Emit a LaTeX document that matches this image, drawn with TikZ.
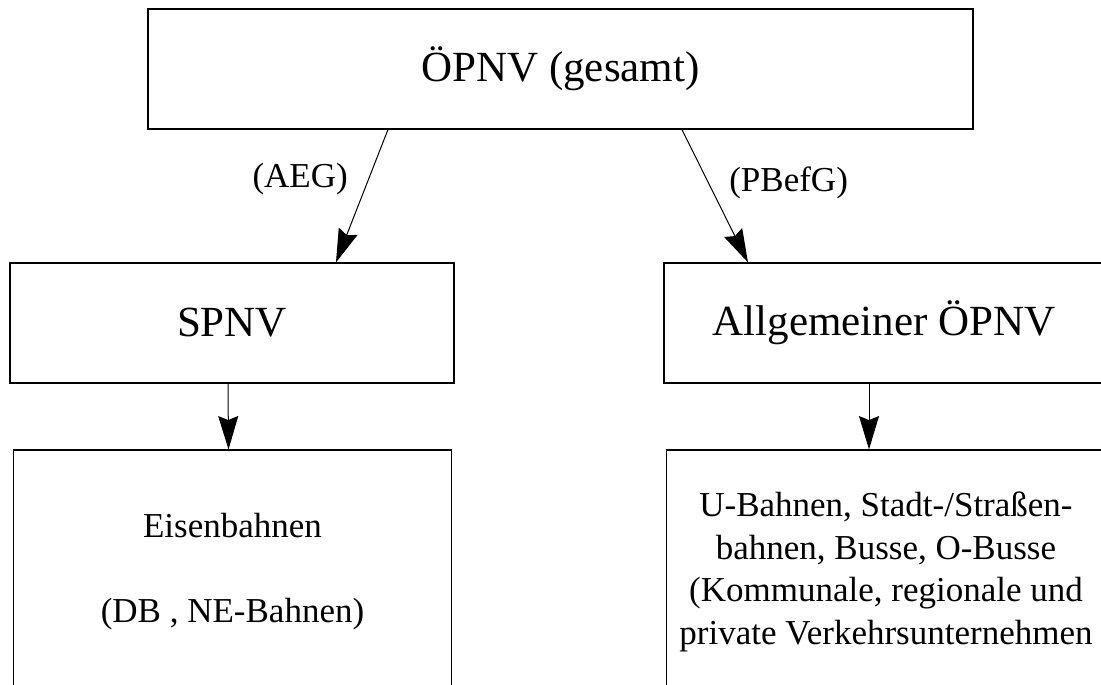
\documentclass[tikz,border=0pt]{standalone}
\usepackage{fontspec}
\setmainfont{Liberation Serif}
\usetikzlibrary{arrows.meta}
\newcommand{\bigtxt}{\fontsize{32.25}{38}\selectfont}
\newcommand{\smalltxt}{\fontsize{26.25}{31.9}\selectfont}

\begin{document}
\begin{tikzpicture}[x=0.75pt, y=-0.75pt,
		box/.style={draw, line width=0.9pt, rectangle, inner sep=0pt, align=center},
		head/.style={box, minimum height=90pt, font=\bigtxt},
		list/.style={box, minimum width=329pt, minimum height=183pt, font=\smalltxt}]
			\useasboundingbox (0,0) rectangle (1101,685);
			\clip (0,0) rectangle (1101,685);
			\node[head, minimum width=618.75pt] (oepnv) at (560.5,69) {ÖPNV (gesamt)};
			\node[head, minimum width=333pt] (spnv) at (232,323) {SPNV};
			\node[head, minimum width=330pt] (allg) at (884,323) {Allgemeiner ÖPNV};
			\node[list] (bahn) at (232.5,572) {Eisenbahnen\\ ~\\ (DB , NE-Bahnen)};
			\node[list] (nahv) at (886,572) {U-Bahnen, Stadt-/Straßen-\\ bahnen, Busse, O-Busse\\ (Kommunale, regionale und\\ private Verkehrsunternehmen};
			\path[-{Stealth[length=25pt, width=15pt, inset=3pt]}, line width=0.75pt, font=\smalltxt]
			([xshift=-129.4pt]oepnv.south) edge node[pos=0.37, left=12pt]{(AEG)} ([xshift=78pt]spnv.north)
			([xshift=91.1pt]oepnv.south) edge node[pos=0.40, right=12pt]{(PBefG)} ([xshift=-102pt]allg.north)
			([xshift=-3pt]spnv.south) edge ([xshift=-3pt]bahn.north)
			([xshift=-11.25pt]allg.south) edge ([xshift=-12.75pt]nahv.north);
\end{tikzpicture}
\end{document}
